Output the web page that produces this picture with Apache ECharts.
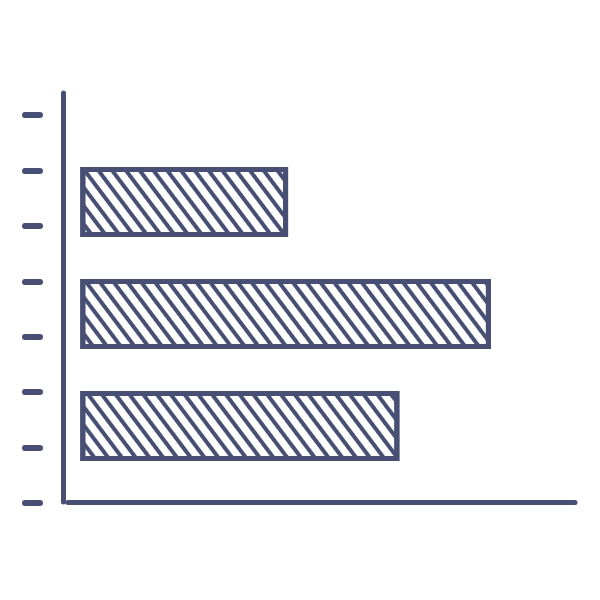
<!DOCTYPE html>
<html>
<head>
<meta charset="utf-8">
<script src="https://cdn.jsdelivr.net/npm/echarts@6/dist/echarts.min.js"></script>
<style>html,body{margin:0;padding:0;background:#fff;}#c{width:600px;height:600px;}</style>
</head>
<body>
<div id="c"></div>
<script>
// Categories (bottom to top), bar values, and tick band labels
var categories = ['A', 'B', 'C'];
var barValues = [6.45, 8.3, 4.2];
var tickBands = ['t0', 't1', 't2', 't3', 't4', 't5', 't6'];

var ink = '#474f74';
var chart = echarts.init(document.getElementById('c'));
chart.setOption({
  backgroundColor: '#fff',
  animation: false,
  grid: [
    { left: 68, right: 25, top: 93, bottom: 98 },   // frame axes
    { left: 63, right: 25, top: 146, height: 336 }, // bars
    { left: 40, right: 25, top: 115, bottom: 97 }   // tick marks
  ],
  xAxis: [
    { gridIndex: 0, type: 'value', min: 0, max: 1,
      axisLine: { show: true, onZero: false, lineStyle: { color: ink, width: 5, cap: 'round' } },
      axisTick: { show: false }, axisLabel: { show: false }, splitLine: { show: false } },
    { gridIndex: 1, type: 'value', min: -0.35, max: 10,
      axisLine: { show: false }, axisTick: { show: false }, axisLabel: { show: false }, splitLine: { show: false } },
    { gridIndex: 2, type: 'value', show: false }
  ],
  yAxis: [
    { gridIndex: 0, type: 'value', min: 0, max: 1, offset: 5,
      axisLine: { show: true, onZero: false, lineStyle: { color: ink, width: 5, cap: 'round' } },
      axisTick: { show: false }, axisLabel: { show: false }, splitLine: { show: false } },
    { gridIndex: 1, type: 'category', data: categories, show: false },
    { gridIndex: 2, type: 'category', data: tickBands, boundaryGap: true,
      axisLine: { show: false },
      axisTick: { show: true, length: 15, lineStyle: { color: ink, width: 6, cap: 'round' } },
      axisLabel: { show: false }, splitLine: { show: false } }
  ],
  series: [{
    type: 'bar',
    xAxisIndex: 1,
    yAxisIndex: 1,
    data: barValues,
    barWidth: 70,
    itemStyle: {
      color: '#ffffff',
      borderColor: ink,
      borderWidth: 5,
      decal: {
        symbol: 'rect',
        symbolSize: 1,
        color: ink,
        dashArrayX: [1, 0],
        dashArrayY: [4, 6.5],
        rotation: 53 * Math.PI / 180
      }
    }
  }]
});
</script>
</body>
</html>
